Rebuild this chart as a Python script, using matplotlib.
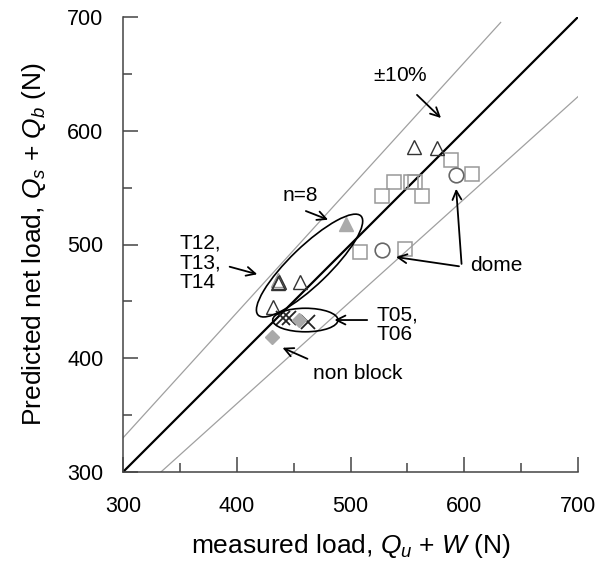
import matplotlib
matplotlib.use("Agg")
import matplotlib.pyplot as plt
from matplotlib.patches import Ellipse
import numpy as np

plt.rcParams['font.family'] = ['Liberation Sans', 'DejaVu Sans']
plt.rcParams['mathtext.fontset'] = 'custom'
plt.rcParams['mathtext.rm'] = 'Liberation Sans'
plt.rcParams['mathtext.it'] = 'Liberation Sans:italic'

# ---- data (measured, predicted) ----
sq_x = [508, 528, 538, 553, 557, 563, 548, 588, 607]
sq_y = [493, 543, 555, 555, 555, 543, 496, 574, 562]
circ_x = [528, 593]
circ_y = [495, 561]
tri_x = [556, 576, 456, 432]
tri_y = [586, 585, 467, 445]
tri_grp_x = [436, 437, 436]
tri_grp_y = [469, 467, 466]
tri_fill_x = [496]
tri_fill_y = [518]
x_x = [441, 446, 463]
x_y = [435, 435, 432]
dia_x = [455, 431]
dia_y = [434, 419]

fig = plt.figure(figsize=(5.99, 5.74), dpi=100)
ax = fig.add_axes([123/599, 1-472/574, (578-123)/599, (472-17)/574])
ax.set_xlim(300, 700)
ax.set_ylim(300, 700)

# reference lines
ax.plot([300, 700], [300, 700], color='black', lw=1.6, zorder=2)
ax.plot([300, 632], [330, 1.1*632], color='#a0a0a0', lw=0.9, zorder=2)
ax.plot([300/0.9, 700], [300, 630], color='#a0a0a0', lw=0.9, zorder=2)

ms = 9.5
ax.plot(sq_x, sq_y, 's', ms=ms, mfc='none', mec='#999999', mew=1.1, zorder=3)
ax.plot(circ_x, circ_y, 'o', ms=ms+1, mfc='none', mec='#666666', mew=1.2, zorder=3)
ax.plot(tri_x, tri_y, '^', ms=ms+1, mfc='none', mec='#333333', mew=1.0, zorder=3)
ax.plot(tri_grp_x[:1], tri_grp_y[:1], '^', ms=ms+1, mfc='none', mec='#999999', mew=1.0, zorder=3)
ax.plot(tri_grp_x[1:], tri_grp_y[1:], '^', ms=ms+1, mfc='none', mec='#333333', mew=1.0, zorder=3)
ax.plot(tri_fill_x, tri_fill_y, '^', ms=ms+1, mfc='#aaaaaa', mec='#aaaaaa', zorder=3)
ax.plot(x_x, x_y, 'x', ms=ms, mec='#222222', mew=1.3, zorder=3)
ax.plot(dia_x, dia_y, 'D', ms=7, mfc='#aaaaaa', mec='#aaaaaa', zorder=3)

# ellipses
ax.add_patch(Ellipse((464, 481.5), 125.5, 34, angle=43.9, fill=False,
                     ec='black', lw=1.2, zorder=4))
ax.add_patch(Ellipse((460.3, 433.6), 57.4, 20.7, angle=0, fill=False,
                     ec='black', lw=1.2, zorder=4))

arrow = dict(arrowstyle='->', color='black', lw=1.3, mutation_scale=16)
fs = 15
ax.annotate('', xy=(581.3, 609.5), xytext=(556.7, 633.2), arrowprops=arrow)
ax.text(543.5, 649, r'$\pm$10%', fontsize=fs, ha='center', va='center')

ax.annotate('', xy=(482.6, 520.9), xytext=(458.5, 530.3), arrowprops=arrow)
ax.text(455.6, 543.5, 'n=8', fontsize=fs, ha='center', va='center')

ax.annotate('', xy=(420.4, 473.2), xytext=(391.4, 481.1), arrowprops=arrow)
ax.text(350, 483.7, 'T12,\nT13,\nT14', fontsize=fs, ha='left', va='center',
        linespacing=1.05)

ax.annotate('', xy=(483.5, 433.6), xytext=(517.1, 433.6), arrowprops=arrow)
ax.text(523, 429.5, 'T05,\nT06', fontsize=fs, ha='left', va='center',
        linespacing=1.05)

ax.annotate('', xy=(438, 410.2), xytext=(464.4, 398.5), arrowprops=arrow)
ax.text(466.8, 387, 'non block', fontsize=fs, ha='left', va='center')

ax.annotate('', xy=(592.7, 551.4), xytext=(597.8, 480.5), arrowprops=arrow)
ax.annotate('', xy=(537.6, 489.3), xytext=(597.8, 480.5), arrowprops=arrow)
ax.text(605, 481.4, 'dome', fontsize=fs, ha='left', va='center')

# axes styling
for s in ['top', 'right']:
    ax.spines[s].set_visible(False)
for s in ['left', 'bottom']:
    ax.spines[s].set_color('#444444')
    ax.spines[s].set_linewidth(1.1)

ax.set_xticks([300, 400, 500, 600, 700])
ax.set_yticks([300, 400, 500, 600, 700])
ax.set_xticks([350, 450, 550, 650], minor=True)
ax.set_yticks([350, 450, 550, 650], minor=True)
ax.tick_params(which='major', direction='in', length=10.5, width=1.1,
               color='#444444', labelsize=15.5, pad=17)
ax.tick_params(which='minor', direction='in', length=6.5, width=1.1,
               color='#444444')
ax.tick_params(axis='y', which='major', pad=14)

ax.set_xlabel(r'measured load, $Q_u$ + $W$ (N)', fontsize=19, labelpad=11)
ax.set_ylabel(r'Predicted net load, $Q_s$ + $Q_b$ (N)', fontsize=19, labelpad=14)

fig.savefig('out.png', dpi=100)
